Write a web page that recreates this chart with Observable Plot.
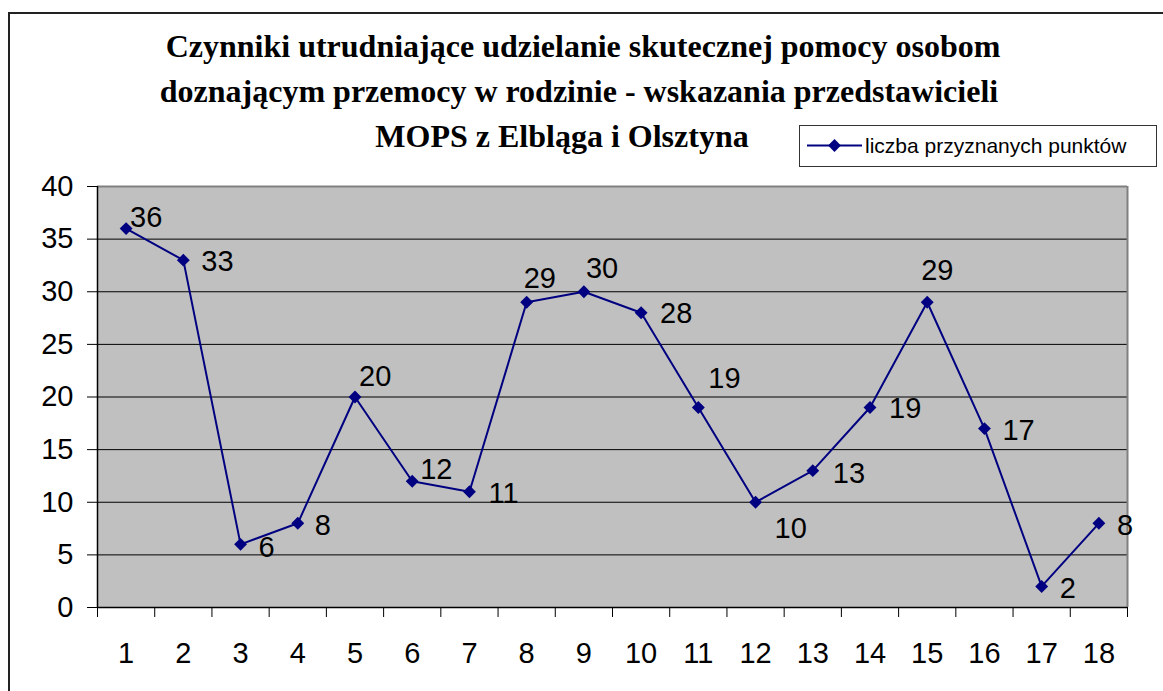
<!DOCTYPE html>
<html>
<head>
<meta charset="utf-8">
<script src="https://cdn.jsdelivr.net/npm/d3@7"></script>
<script src="https://cdn.jsdelivr.net/npm/@observablehq/plot@0.6"></script>
<style>
  html, body { margin: 0; padding: 0; background: #fff; }
  #wrap { position: relative; width: 1163px; height: 691px; overflow: hidden; background: #fff; }
  #wrap > svg { position: absolute; left: 0; top: 0; }
</style>
</head>
<body>
<div id="wrap"></div>
<script>
// ---- data ----
const categories = [1, 2, 3, 4, 5, 6, 7, 8, 9, 10, 11, 12, 13, 14, 15, 16, 17, 18];
const values = [36, 33, 6, 8, 20, 12, 11, 29, 30, 28, 19, 10, 13, 19, 29, 17, 2, 8];
const yTicks = [0, 5, 10, 15, 20, 25, 30, 35, 40];
const seriesName = "liczba przyznanych punktów";
const titleLines = [
  "Czynniki utrudniające udzielanie skutecznej pomocy osobom",
  "doznającym przemocy w rodzinie - wskazania przedstawicieli",
  "MOPS z Elbląga i Olsztyna"
];
// label nudges (style only): [dx, dy] in px from each point
const labelNudge = [
  [4, -11], [18, 2], [18, 3], [17, 2], [4, -20], [8, -11], [19, 2], [-3, -24], [2, -23],
  [19, 1], [10, -29], [19, 26], [20, 3], [19, 1], [-6, -32], [18, 2], [18, 2], [18, 2]
];

const navy = "#000080";
const sans = "'Liberation Sans', Arial, sans-serif";

const data = categories.map((c, i) => ({ c, v: values[i], dx: labelNudge[i][0], dy: labelNudge[i][1] }));
const boundaries = [categories[0] - 0.5, ...categories.map(c => c + 0.5)];

// group labels by nudge so each group gets its own text mark
const groups = d3.groups(data, d => d.dx + "," + d.dy);
const labelMarks = groups.map(([k, arr]) => Plot.text(arr, {
  x: "c", y: "v", text: d => String(d.v),
  textAnchor: "start", dx: arr[0].dx, dy: arr[0].dy,
  fill: "#000", fontSize: 29, fontFamily: sans
}));

const chart = Plot.plot({
  width: 1163,
  height: 691,
  marginLeft: 97,
  marginRight: 36,
  marginTop: 186,
  marginBottom: 84,
  x: { type: "linear", domain: [boundaries[0], boundaries[boundaries.length - 1]], label: null },
  y: { domain: [yTicks[0], yTicks[yTicks.length - 1]], label: null },
  style: { fontFamily: sans, fontSize: "29px", color: "#000", background: "transparent", overflow: "visible" },
  marks: [
    Plot.frame({ fill: "#c0c0c0", stroke: null }),
    Plot.ruleY(yTicks.slice(1, -1), { stroke: "#000", strokeWidth: 1 }),
    Plot.ruleY([yTicks[yTicks.length - 1]], { stroke: "#808080", strokeWidth: 2 }),
    Plot.ruleX([boundaries[boundaries.length - 1]], { stroke: "#808080", strokeWidth: 2 }),
    Plot.axisY({ ticks: yTicks, tickSize: 10, tickPadding: 14, tickFormat: d => String(d), label: null, fontSize: 29, stroke: "#000" }),
    Plot.axisX({ ticks: boundaries, tickSize: 10, tickFormat: () => "", label: null, stroke: "#000" }),
    Plot.axisX({ ticks: categories, tickSize: 0, tickPadding: 35, tickFormat: d => String(d), label: null, fontSize: 29 }),
    Plot.ruleX([boundaries[0]], { stroke: "#000", strokeWidth: 1.5 }),
    Plot.ruleY([yTicks[0]], { stroke: "#000", strokeWidth: 1.5 }),
    Plot.line(data, { x: "c", y: "v", stroke: navy, strokeWidth: 2 }),
    Plot.dot(data, { x: "c", y: "v", symbol: "diamond2", r: 5.8, fill: navy, stroke: "none" }),
    ...labelMarks
  ]
});

const wrap = document.getElementById("wrap");
wrap.appendChild(chart);

// ---- overlay: outer frame, title, legend ----
const ov = d3.select(wrap).append("svg")
  .attr("width", 1163).attr("height", 691)
  .style("pointer-events", "none");

ov.append("path")
  .attr("d", "M9,691 V13 H1163")
  .attr("fill", "none").attr("stroke", "#222").attr("stroke-width", 2);

const titleX = [583, 579, 562];
const titleY = [57, 102, 147];
ov.selectAll("text.title").data(titleLines).join("text")
  .attr("class", "title")
  .attr("x", (d, i) => titleX[i])
  .attr("y", (d, i) => titleY[i])
  .attr("text-anchor", "middle")
  .attr("font-family", "'Liberation Serif', 'Times New Roman', serif")
  .attr("font-weight", "bold")
  .attr("font-size", 32)
  .attr("fill", "#000")
  .text(d => d);

const lg = ov.append("g");
lg.append("rect").attr("x", 799.5).attr("y", 125.5).attr("width", 357).attr("height", 41)
  .attr("fill", "#fff").attr("stroke", "#333").attr("stroke-width", 1);
lg.append("line").attr("x1", 807).attr("x2", 862).attr("y1", 145.5).attr("y2", 145.5)
  .attr("stroke", navy).attr("stroke-width", 2);
lg.append("path").attr("d", d3.symbol(d3.symbolDiamond2, Math.PI * 5.8 * 5.8)())
  .attr("transform", "translate(834.5,145.5)").attr("fill", navy);
lg.append("text").attr("x", 865).attr("y", 153)
  .attr("font-family", sans).attr("font-size", 21).attr("fill", "#000")
  .text(seriesName);
</script>
</body>
</html>
